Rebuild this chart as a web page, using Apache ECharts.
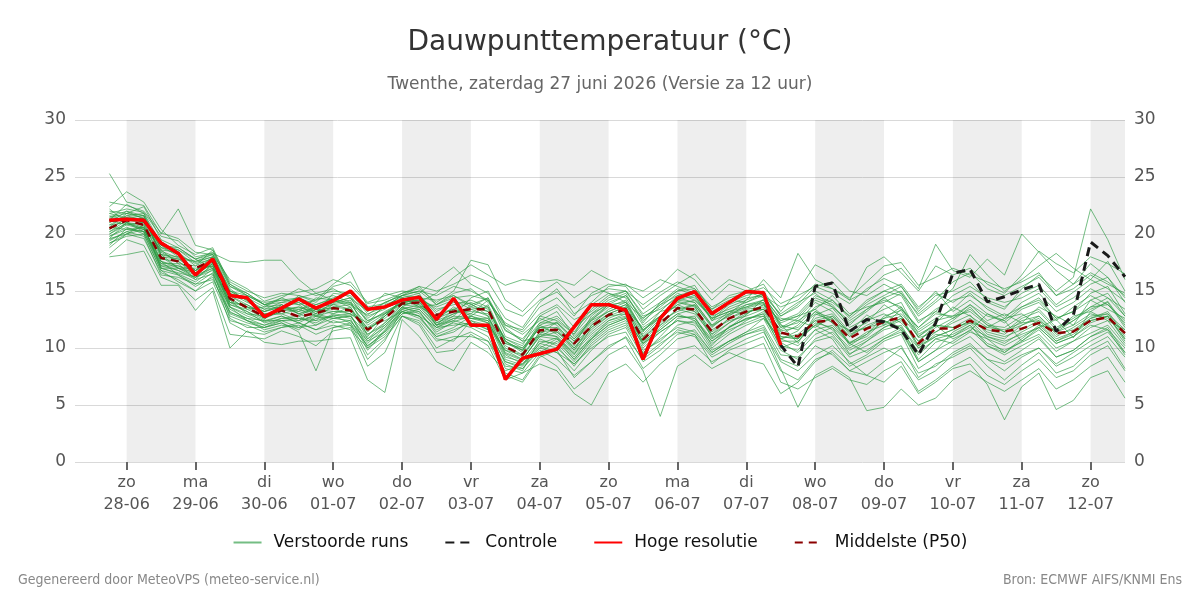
<!DOCTYPE html>
<html>
<head>
<meta charset="utf-8">
<title>Dauwpunttemperatuur</title>
<script src="https://cdn.jsdelivr.net/npm/echarts@6/dist/echarts.min.js"></script>
<style>
  html, body { margin: 0; padding: 0; background: #fff; }
  #chart { width: 1200px; height: 600px; }
</style>
</head>
<body>
<div id="chart"></div>
<script>
// tijdstappen: uren na 28-06 00:00, elke 6 uur vanaf 27-06 18:00
var stapUren = [];
for (var s = 0; s < 60; s++) stapUren.push(-6 + 6 * s);

// daglabels op de x-as (middernacht)
var tickUren = [0, 24, 48, 72, 96, 120, 144, 168, 192, 216, 240, 264, 288, 312, 336];
var tickDagen = ['zo', 'ma', 'di', 'wo', 'do', 'vr', 'za', 'zo', 'ma', 'di', 'wo', 'do', 'vr', 'za', 'zo'];
var tickDatums = ['28-06', '29-06', '30-06', '01-07', '02-07', '03-07', '04-07', '05-07', '06-07', '07-07', '08-07', '09-07', '10-07', '11-07', '12-07'];

// grijze banden (om de dag)
var banden = [[0, 24], [48, 72], [96, 120], [144, 168], [192, 216], [240, 264], [288, 312], [336, 348]];

// hoge resolutie (loopt tot 07-07 12 uur)
var hoogRes = [21.2, 21.3, 21.2, 19.2, 18.3, 16.4, 17.8, 14.6, 14.4, 12.75,
  13.5, 14.3, 13.5, 14.15, 15.0, 13.4, 13.6, 14.2, 14.45, 12.5,
  14.35, 12.0, 12.0, 7.25, 9.1, 9.5, 9.9, 11.85, 13.8, 13.8,
  13.3, 9.0, 12.6, 14.35, 14.95, 13.0, 14.0, 14.95, 14.85, 10.25];

// controle run
var controle = [21.2, 21.3, 21.2, 19.2, 18.3, 16.4, 17.8, 14.6, 14.4, 12.75,
  13.5, 14.3, 13.5, 14.15, 15.0, 13.4, 13.6, 14.2, 14.45, 12.5,
  14.35, 12.0, 12.0, 7.25, 9.1, 9.5, 9.9, 11.85, 13.8, 13.8,
  13.3, 9.0, 12.6, 14.35, 14.95, 13.0, 14.0, 14.95, 14.85, 10.25,
  8.35, 15.4, 15.7, 11.45, 12.5, 12.3, 11.6, 9.4, 12.2, 16.55,
  16.9, 14.05, 14.5, 15.1, 15.6, 11.45, 12.9, 19.3, 18.1, 16.25];

// mediaan P50
var p50 = [20.5, 21.2, 20.8, 17.9, 17.6, 17.0, 17.7, 14.35, 13.55, 12.75,
  13.3, 12.75, 13.05, 13.5, 13.3, 11.6, 12.6, 13.9, 14.0, 12.9,
  13.2, 13.4, 13.4, 10.1, 9.4, 11.55, 11.6, 10.4, 11.9, 12.9,
  13.4, 10.75, 12.15, 13.5, 13.4, 11.45, 12.6, 13.2, 13.6, 11.35,
  11.0, 12.3, 12.4, 10.85, 11.7, 12.3, 12.7, 10.4, 11.7, 11.7,
  12.4, 11.6, 11.45, 11.7, 12.2, 11.3, 11.45, 12.4, 12.7, 11.3];

// verstoorde runs
var run01 = [21.5, 22.0, 21.3, 18.5, 17.9, 16.8, 17.2, 14.0, 13.2, 12.5, 13.8, 13.0, 12.4, 13.9, 14.2, 11.0, 12.8, 14.3, 14.6, 13.2, 14.0, 13.9, 12.8, 9.5, 8.9, 11.2, 12.3, 10.8, 12.5, 13.6, 14.2, 11.5, 12.8, 14.1, 13.7, 10.9, 11.8, 12.9, 14.3, 12.1, 10.4, 12.9, 13.5, 11.8, 12.6, 13.4, 14.0, 11.2, 12.0, 10.8, 11.5, 13.0, 12.4, 10.6, 11.8, 12.5, 10.9, 13.2, 14.1, 12.0];
var run02 = [19.0, 20.5, 20.2, 17.0, 16.5, 15.8, 16.9, 13.1, 12.6, 12.0, 12.4, 11.8, 12.0, 12.9, 12.6, 9.8, 11.5, 13.5, 13.2, 11.4, 12.3, 12.8, 12.2, 9.0, 8.5, 10.4, 10.9, 9.2, 11.0, 12.2, 12.7, 9.5, 11.0, 12.6, 12.8, 10.2, 11.9, 12.5, 13.0, 10.5, 9.6, 11.2, 11.8, 9.5, 10.2, 11.0, 11.8, 9.0, 10.5, 11.0, 12.0, 10.4, 9.8, 10.5, 11.2, 9.7, 10.6, 11.3, 12.0, 10.2];
var run03 = [22.8, 22.5, 22.0, 20.1, 19.6, 18.4, 18.2, 16.0, 15.2, 14.1, 14.6, 14.9, 15.2, 16.0, 15.5, 13.9, 14.2, 14.8, 15.4, 15.0, 15.6, 16.4, 15.8, 13.4, 12.8, 14.2, 14.9, 13.5, 14.6, 15.2, 15.0, 13.8, 14.9, 15.8, 15.2, 13.6, 14.4, 14.8, 15.3, 13.9, 14.6, 15.4, 14.8, 13.9, 15.2, 16.1, 15.4, 13.2, 14.6, 15.0, 15.8, 14.2, 13.6, 14.8, 15.5, 13.8, 14.9, 16.0, 15.2, 14.1];
var run04 = [18.2, 19.5, 19.0, 16.2, 15.6, 14.2, 15.3, 11.2, 11.0, 10.8, 11.5, 11.0, 10.2, 11.5, 11.8, 8.4, 9.6, 12.8, 12.2, 10.0, 10.8, 11.4, 10.6, 7.6, 7.0, 9.2, 9.8, 7.4, 8.8, 10.2, 10.9, 8.2, 9.4, 10.8, 11.2, 8.6, 9.8, 10.4, 11.0, 8.0, 7.2, 9.0, 9.6, 8.0, 8.8, 9.6, 10.2, 7.4, 8.6, 9.2, 10.0, 8.4, 7.2, 8.5, 9.6, 7.8, 8.4, 9.8, 10.6, 8.2];
var run05 = [20.8, 21.6, 21.8, 19.2, 18.6, 17.5, 18.0, 15.2, 14.1, 13.2, 13.6, 13.4, 13.8, 14.3, 13.9, 12.4, 13.1, 14.0, 14.2, 12.0, 12.6, 13.0, 14.2, 11.5, 10.8, 12.6, 12.0, 10.2, 12.8, 14.0, 14.6, 12.4, 13.6, 14.8, 14.2, 12.8, 13.4, 14.0, 14.8, 11.8, 12.2, 14.0, 13.2, 11.4, 12.9, 12.0, 13.4, 11.8, 13.2, 12.6, 13.8, 12.4, 13.0, 12.2, 13.6, 12.8, 12.0, 14.2, 13.4, 12.6];
var run06 = [20.2, 20.9, 20.5, 17.6, 17.2, 16.5, 17.4, 14.6, 13.8, 13.0, 13.0, 12.4, 13.4, 13.0, 13.6, 10.8, 12.2, 13.8, 14.0, 12.5, 13.6, 12.8, 13.8, 10.6, 9.6, 12.0, 11.2, 9.8, 11.4, 12.6, 13.2, 10.8, 12.4, 13.2, 13.8, 11.9, 12.9, 13.5, 13.9, 11.5, 11.8, 13.2, 12.2, 10.5, 11.2, 12.8, 13.3, 10.9, 11.4, 12.2, 12.9, 11.2, 10.8, 12.0, 12.6, 11.0, 11.8, 12.8, 13.0, 11.6];
var run07 = [21.8, 22.2, 21.9, 19.8, 19.4, 18.0, 18.3, 17.6, 17.5, 17.7, 17.7, 16.0, 14.8, 14.2, 13.8, 12.9, 14.0, 14.6, 15.0, 13.8, 14.8, 15.2, 14.0, 12.2, 11.4, 13.0, 13.8, 12.5, 13.2, 14.4, 15.0, 13.0, 14.0, 15.0, 15.5, 13.2, 14.0, 14.6, 15.0, 12.8, 13.6, 15.0, 14.2, 12.8, 14.0, 15.0, 14.6, 12.2, 13.4, 14.2, 14.6, 13.6, 12.8, 13.6, 14.4, 12.6, 13.2, 14.8, 15.4, 13.0];
var run08 = [19.5, 20.2, 20.6, 17.2, 16.8, 16.0, 16.5, 13.6, 12.8, 12.3, 12.8, 12.2, 11.6, 12.4, 12.0, 10.2, 11.2, 13.0, 13.4, 11.8, 12.0, 12.2, 11.8, 8.6, 8.0, 10.8, 10.2, 8.4, 10.4, 11.6, 12.2, 9.8, 10.6, 12.0, 12.4, 10.0, 11.2, 12.0, 12.6, 9.8, 9.0, 10.8, 11.4, 9.8, 10.6, 11.6, 12.0, 9.6, 10.8, 10.4, 11.4, 10.8, 10.2, 11.0, 11.8, 10.4, 11.0, 12.0, 11.6, 10.0];
var run09 = [25.3, 22.8, 22.5, 20.0, 22.2, 19.0, 18.6, 15.4, 14.8, 13.8, 13.4, 14.6, 14.2, 15.6, 16.7, 13.6, 13.9, 14.8, 15.2, 14.0, 15.0, 17.7, 17.3, 14.2, 13.2, 14.8, 15.8, 14.4, 15.4, 14.8, 14.0, 12.6, 13.8, 14.6, 15.0, 12.4, 13.0, 14.2, 16.0, 14.4, 18.3, 16.0, 15.2, 14.2, 17.1, 18.0, 16.6, 15.0, 17.2, 16.4, 17.0, 15.6, 14.8, 16.4, 18.5, 17.4, 16.6, 18.0, 17.4, 16.5];
var run10 = [18.0, 18.2, 18.5, 15.5, 15.5, 13.3, 15.0, 10.0, 11.5, 10.5, 10.3, 10.6, 10.6, 10.8, 10.9, 7.2, 6.1, 12.5, 11.0, 8.8, 8.0, 10.5, 9.6, 8.0, 8.6, 10.0, 10.8, 9.5, 10.8, 12.0, 12.6, 10.4, 11.4, 12.4, 12.0, 9.8, 10.6, 11.4, 12.6, 10.8, 11.5, 13.2, 12.6, 10.4, 9.6, 10.8, 11.6, 8.8, 9.8, 11.4, 12.2, 10.8, 9.6, 10.8, 12.0, 10.6, 11.2, 12.4, 12.8, 10.6];
var run11 = [20.0, 21.0, 20.8, 18.0, 17.0, 16.2, 17.0, 13.8, 13.2, 12.2, 12.6, 12.6, 12.2, 13.0, 12.8, 11.2, 12.0, 13.6, 13.0, 11.6, 12.2, 11.8, 11.0, 7.8, 7.2, 9.4, 8.4, 6.4, 7.6, 9.4, 10.2, 8.0, 4.0, 8.4, 9.4, 8.2, 9.0, 9.8, 10.4, 7.0, 6.4, 7.4, 8.2, 7.2, 6.8, 8.0, 8.8, 6.2, 7.2, 8.4, 9.2, 7.6, 6.8, 8.0, 9.0, 7.4, 8.0, 9.4, 10.2, 8.0];
var run12 = [21.0, 21.6, 21.2, 18.8, 18.2, 17.4, 17.8, 14.8, 14.0, 13.4, 14.0, 13.8, 14.2, 14.6, 14.0, 12.8, 13.4, 14.4, 14.8, 12.2, 12.8, 14.4, 15.0, 12.0, 11.2, 12.4, 13.2, 11.0, 12.6, 13.8, 14.0, 11.6, 12.6, 13.8, 13.2, 11.0, 12.2, 13.0, 13.8, 11.2, 12.0, 13.6, 14.2, 12.6, 13.8, 14.6, 15.4, 13.4, 15.0, 13.2, 14.2, 13.0, 12.2, 13.4, 14.0, 12.4, 13.6, 14.6, 13.8, 12.2];
var run13 = [20.4, 21.4, 21.0, 17.6, 17.0, 16.6, 17.5, 14.2, 13.6, 12.6, 13.2, 12.8, 13.6, 13.4, 13.0, 11.8, 12.4, 13.2, 13.6, 12.8, 13.4, 13.0, 12.6, 10.4, 9.8, 11.8, 12.2, 10.6, 12.2, 13.2, 13.8, 11.2, 12.8, 14.2, 14.6, 12.4, 13.6, 14.2, 14.8, 12.8, 13.8, 15.4, 15.8, 14.2, 15.0, 16.4, 17.0, 15.2, 19.1, 16.8, 16.2, 17.8, 16.4, 20.0, 18.4, 16.8, 15.6, 17.4, 16.2, 14.4];
var run14 = [19.8, 20.6, 20.0, 16.8, 16.4, 15.4, 16.2, 12.8, 12.2, 11.8, 12.2, 11.6, 12.8, 12.2, 12.4, 10.4, 11.8, 13.2, 12.6, 11.0, 11.4, 12.4, 12.0, 9.8, 9.0, 11.0, 11.4, 10.0, 11.6, 12.8, 13.4, 11.0, 12.0, 13.0, 12.4, 10.6, 11.6, 12.2, 12.8, 10.2, 9.8, 11.6, 10.8, 8.6, 9.4, 10.6, 11.2, 8.2, 9.2, 10.2, 11.0, 9.6, 8.8, 9.8, 10.8, 9.2, 9.8, 11.0, 11.8, 9.6];
var run15 = [22.0, 21.8, 22.4, 19.5, 18.8, 17.8, 18.4, 15.6, 14.6, 13.8, 14.2, 14.0, 13.0, 14.8, 14.6, 12.6, 13.6, 14.6, 14.4, 14.2, 14.6, 13.8, 13.2, 10.8, 10.2, 12.8, 13.6, 11.8, 13.0, 14.2, 14.8, 12.2, 14.0, 15.2, 14.6, 12.6, 13.2, 13.6, 14.0, 11.0, 10.8, 12.0, 11.2, 9.4, 10.6, 11.8, 12.6, 10.2, 11.4, 12.4, 13.6, 12.0, 11.4, 12.6, 13.2, 11.6, 12.4, 13.6, 14.4, 12.8];
var run16 = [19.2, 20.0, 19.6, 16.6, 16.0, 15.0, 15.8, 12.4, 12.0, 11.4, 11.8, 12.0, 11.2, 11.8, 12.2, 9.4, 10.8, 12.8, 12.4, 10.6, 11.0, 11.0, 10.6, 8.4, 8.2, 9.8, 9.0, 7.6, 8.8, 10.0, 11.0, 9.0, 10.2, 11.6, 11.2, 9.4, 10.4, 11.2, 11.8, 9.0, 8.4, 10.2, 9.4, 8.0, 7.6, 8.8, 10.0, 7.8, 8.4, 9.6, 10.4, 9.0, 8.6, 9.4, 10.0, 8.4, 9.2, 10.2, 11.0, 9.2];
var run17 = [21.2, 22.6, 21.8, 18.6, 18.4, 17.2, 18.6, 15.8, 15.0, 14.4, 14.8, 14.6, 14.0, 15.4, 15.8, 14.0, 14.6, 15.0, 14.8, 16.0, 17.1, 15.6, 14.8, 12.6, 11.8, 14.0, 15.2, 13.0, 14.0, 15.4, 15.6, 14.4, 15.4, 16.9, 16.0, 14.2, 15.6, 15.0, 15.6, 13.2, 15.0, 17.3, 16.5, 15.0, 14.6, 15.6, 14.8, 13.0, 14.2, 15.8, 16.6, 15.2, 14.6, 15.4, 16.2, 14.6, 15.6, 16.6, 15.8, 14.6];
var run18 = [20.6, 20.4, 20.2, 17.4, 17.4, 17.2, 17.9, 14.2, 13.0, 12.8, 13.4, 13.2, 13.6, 13.8, 13.4, 11.8, 12.8, 14.2, 14.4, 13.4, 13.8, 14.2, 13.6, 10.2, 9.4, 11.4, 11.0, 9.4, 11.8, 13.0, 13.6, 10.4, 12.0, 13.4, 13.0, 11.2, 12.6, 13.4, 13.6, 11.0, 10.8, 12.6, 13.0, 11.2, 11.8, 12.2, 12.8, 10.2, 11.0, 11.6, 12.4, 11.6, 11.2, 12.4, 12.8, 11.4, 12.0, 13.0, 12.6, 11.4];
var run19 = [21.6, 21.2, 21.4, 18.2, 17.8, 16.8, 17.6, 14.8, 14.4, 13.6, 13.8, 13.2, 14.4, 14.2, 13.6, 11.4, 13.0, 14.0, 13.8, 12.4, 13.0, 13.6, 14.4, 11.0, 10.4, 12.2, 12.8, 11.4, 13.4, 14.6, 15.0, 12.8, 13.4, 14.4, 14.0, 12.0, 12.8, 13.8, 14.2, 12.2, 12.8, 14.4, 13.8, 12.0, 13.4, 14.2, 13.6, 11.6, 12.6, 13.4, 14.8, 13.4, 12.6, 14.0, 14.8, 13.2, 14.0, 15.2, 14.4, 13.4];
var run20 = [19.6, 21.0, 20.4, 17.8, 17.6, 16.4, 17.0, 13.4, 12.6, 12.4, 12.4, 12.4, 12.8, 12.6, 12.8, 10.6, 12.0, 13.4, 13.8, 12.0, 12.8, 12.6, 12.4, 9.2, 8.8, 10.6, 10.4, 8.8, 10.6, 11.8, 12.4, 10.0, 11.4, 12.4, 12.2, 10.4, 11.4, 12.4, 13.2, 10.8, 11.2, 12.4, 11.6, 10.0, 10.8, 11.8, 12.4, 10.6, 12.0, 11.8, 12.6, 11.4, 11.0, 11.6, 12.4, 10.8, 11.4, 12.6, 13.2, 11.2];
var run21 = [20.0, 20.8, 20.4, 17.4, 16.8, 16.2, 17.2, 13.6, 12.4, 11.6, 12.0, 11.8, 12.6, 12.8, 13.0, 10.0, 11.6, 13.2, 12.8, 11.8, 12.4, 12.0, 11.4, 8.8, 8.4, 10.2, 9.6, 8.0, 9.8, 11.2, 11.8, 9.2, 10.4, 11.4, 11.0, 9.2, 10.0, 10.8, 11.4, 8.8, 8.0, 9.4, 10.2, 8.8, 7.6, 7.0, 8.4, 6.0, 7.0, 8.2, 8.6, 6.8, 3.7, 6.6, 7.8, 4.6, 5.4, 7.4, 8.0, 5.6];
var run22 = [19.4, 20.2, 19.8, 16.4, 16.2, 15.6, 16.6, 13.0, 12.4, 12.0, 12.6, 12.8, 12.0, 12.6, 12.4, 10.6, 11.4, 13.0, 13.2, 11.2, 11.8, 12.8, 12.4, 9.4, 8.6, 10.4, 10.0, 8.6, 10.2, 11.4, 12.0, 9.6, 10.8, 11.8, 11.4, 9.6, 10.6, 11.2, 11.6, 8.2, 4.8, 7.6, 8.4, 7.4, 4.5, 4.8, 6.4, 5.0, 5.6, 7.2, 8.0, 7.0, 6.2, 7.2, 8.2, 6.4, 7.2, 8.4, 9.2, 7.0];
var run23 = [21.4, 21.8, 21.6, 19.0, 18.0, 17.6, 18.2, 15.0, 14.2, 13.0, 13.2, 13.6, 13.0, 14.0, 14.4, 12.2, 13.2, 14.0, 14.6, 13.0, 13.4, 14.0, 13.4, 10.8, 10.0, 12.0, 12.6, 11.2, 13.8, 14.8, 14.4, 12.0, 13.2, 14.6, 14.4, 12.6, 13.8, 14.4, 14.6, 12.4, 13.0, 14.6, 14.0, 12.8, 14.2, 15.0, 15.6, 13.6, 14.8, 14.0, 15.0, 14.0, 13.4, 15.2, 16.4, 15.0, 16.2, 22.2, 19.5, 16.0];
var run24 = [20.2, 21.2, 21.0, 18.4, 17.6, 16.6, 17.6, 13.8, 13.4, 12.6, 13.4, 13.6, 13.2, 13.8, 14.0, 11.6, 12.8, 14.0, 14.2, 13.6, 14.2, 13.4, 12.8, 10.0, 9.2, 11.4, 11.6, 9.8, 12.0, 13.4, 14.0, 11.4, 13.2, 13.6, 13.2, 11.6, 12.4, 12.8, 13.4, 11.6, 12.4, 11.8, 12.8, 11.0, 12.0, 12.6, 13.0, 11.4, 12.4, 12.8, 13.2, 12.0, 11.8, 12.8, 13.4, 11.8, 12.6, 13.6, 13.8, 12.4];
var run25 = [22.4, 23.7, 22.8, 20.4, 19.0, 18.2, 18.8, 15.6, 14.8, 13.8, 14.4, 15.2, 14.6, 15.0, 14.8, 13.2, 14.0, 14.6, 15.0, 14.6, 15.4, 15.0, 14.2, 12.0, 11.6, 13.6, 14.4, 12.8, 14.8, 15.6, 15.4, 13.4, 14.6, 15.6, 16.5, 14.8, 16.0, 15.4, 14.6, 13.0, 14.0, 14.8, 13.6, 12.4, 13.4, 14.4, 15.0, 12.8, 14.0, 15.2, 18.2, 16.4, 15.0, 16.0, 17.2, 18.3, 17.0, 16.0, 17.6, 15.0];
var run26 = [19.8, 20.4, 20.6, 17.0, 16.6, 16.2, 16.8, 12.6, 11.8, 11.8, 12.2, 11.4, 8.0, 11.8, 12.0, 9.0, 10.6, 13.4, 12.8, 10.8, 10.6, 12.4, 11.6, 8.2, 7.8, 9.6, 10.6, 9.0, 10.8, 12.4, 12.8, 10.6, 11.6, 12.8, 12.6, 10.8, 11.8, 12.6, 13.0, 10.0, 10.6, 12.0, 12.6, 10.2, 11.2, 12.4, 11.6, 9.4, 10.8, 11.2, 12.0, 10.2, 9.6, 10.6, 11.6, 10.0, 10.6, 11.8, 12.4, 10.4];
var run27 = [21.0, 22.0, 21.6, 18.0, 17.8, 17.6, 18.0, 15.0, 14.2, 13.4, 13.6, 14.0, 13.2, 13.6, 13.8, 12.0, 13.0, 14.0, 14.2, 12.6, 13.2, 13.2, 13.0, 10.4, 10.0, 11.8, 11.8, 10.0, 12.0, 13.0, 13.6, 11.0, 12.6, 14.0, 13.6, 11.4, 12.6, 13.2, 13.4, 11.4, 10.8, 12.4, 12.8, 11.4, 11.8, 12.6, 13.6, 11.0, 12.0, 11.8, 12.2, 11.8, 11.6, 12.2, 12.4, 11.4, 12.4, 13.4, 14.0, 11.8];
var run28 = [20.8, 21.0, 20.2, 17.2, 17.2, 16.8, 17.8, 14.0, 13.6, 13.2, 13.6, 13.0, 13.4, 13.2, 13.2, 11.6, 12.6, 13.8, 14.0, 12.2, 13.0, 13.4, 13.6, 10.6, 9.8, 11.8, 11.4, 10.4, 11.8, 12.8, 13.0, 10.6, 12.2, 13.4, 13.8, 11.8, 13.0, 13.6, 14.2, 12.0, 11.6, 13.0, 12.4, 11.0, 12.4, 13.0, 12.2, 10.6, 11.8, 12.6, 13.4, 12.2, 11.4, 12.0, 12.8, 11.2, 11.6, 12.6, 13.0, 11.0];
var run29 = [21.8, 21.4, 21.2, 18.8, 18.6, 17.8, 18.2, 15.4, 14.6, 14.0, 14.2, 14.4, 14.8, 15.2, 14.4, 13.2, 14.8, 14.4, 14.0, 14.8, 16.2, 17.3, 16.4, 15.5, 16.0, 15.8, 16.0, 15.5, 16.8, 16.0, 15.5, 15.0, 16.0, 15.4, 14.8, 13.4, 14.2, 14.0, 14.6, 13.6, 14.2, 15.6, 15.2, 14.4, 15.8, 17.2, 17.5, 15.5, 16.2, 17.0, 16.4, 15.8, 15.2, 15.8, 16.6, 14.6, 15.2, 16.4, 15.6, 14.8];
var run30 = [19.2, 19.8, 20.0, 16.8, 15.8, 15.0, 16.4, 12.2, 11.4, 11.2, 11.8, 12.2, 11.6, 12.0, 11.6, 10.0, 11.0, 12.8, 12.0, 9.6, 9.8, 11.2, 10.2, 7.2, 7.8, 8.6, 8.0, 6.0, 5.0, 7.8, 8.6, 7.0, 8.6, 9.8, 10.2, 8.8, 9.6, 9.0, 8.6, 6.0, 7.0, 8.8, 9.8, 8.4, 9.2, 10.0, 9.2, 7.2, 8.0, 9.4, 10.2, 9.0, 8.0, 9.2, 10.0, 8.6, 9.6, 10.6, 11.4, 9.6];
var run31 = [22.2, 21.0, 20.6, 18.6, 17.4, 16.0, 17.4, 14.4, 13.4, 13.6, 14.4, 13.8, 12.8, 13.2, 13.0, 12.2, 13.8, 14.4, 13.6, 12.0, 12.4, 13.8, 14.4, 11.8, 10.6, 11.0, 11.8, 10.6, 12.4, 13.8, 13.4, 11.8, 12.8, 13.8, 14.2, 12.6, 13.2, 13.0, 13.8, 12.4, 12.8, 13.4, 12.2, 11.6, 12.2, 13.8, 12.8, 11.0, 12.2, 13.6, 12.8, 11.8, 12.6, 13.0, 12.0, 11.6, 12.8, 13.2, 12.4, 11.6];
var run32 = [20.6, 21.8, 21.4, 18.2, 17.0, 17.0, 17.2, 14.0, 13.8, 12.9, 13.0, 13.4, 12.8, 13.6, 13.4, 11.2, 12.2, 13.6, 14.4, 12.0, 13.4, 12.6, 12.2, 9.8, 9.4, 11.2, 11.0, 9.6, 11.2, 12.4, 13.0, 10.2, 11.8, 13.0, 13.4, 11.2, 12.2, 13.2, 13.4, 10.8, 10.2, 11.6, 12.0, 10.4, 11.4, 12.0, 12.6, 10.0, 11.2, 11.0, 11.8, 11.0, 10.6, 11.2, 11.8, 10.4, 11.0, 12.2, 12.8, 10.8];
var run33 = [21.2, 20.8, 21.0, 19.0, 18.8, 17.8, 17.0, 15.0, 14.6, 13.8, 14.0, 14.4, 13.8, 14.4, 14.8, 13.0, 13.6, 14.6, 15.4, 13.8, 14.4, 14.6, 14.2, 11.6, 10.6, 12.8, 12.4, 11.2, 13.0, 13.8, 14.6, 12.6, 13.8, 15.0, 15.2, 13.4, 14.6, 15.0, 14.4, 12.6, 12.4, 13.4, 14.6, 13.0, 13.6, 14.0, 14.8, 12.4, 13.2, 14.6, 15.4, 14.4, 14.0, 14.4, 15.2, 13.6, 14.4, 15.6, 16.2, 14.0];
var run34 = [18.8, 20.0, 20.4, 17.6, 16.4, 15.6, 16.0, 13.2, 12.4, 11.8, 12.4, 12.6, 12.4, 12.8, 12.2, 10.2, 11.4, 13.2, 12.8, 11.0, 11.6, 12.2, 11.6, 8.8, 8.2, 10.0, 9.6, 8.6, 10.0, 11.0, 11.4, 8.8, 9.8, 11.2, 11.6, 9.6, 10.6, 11.4, 12.0, 9.4, 9.2, 10.6, 11.0, 9.2, 9.8, 10.8, 11.4, 8.8, 9.8, 10.6, 11.6, 10.2, 9.4, 10.2, 11.0, 9.2, 9.8, 11.0, 11.6, 9.4];
var run35 = [20.4, 21.4, 21.6, 18.2, 18.0, 16.8, 18.0, 14.6, 13.6, 13.2, 13.8, 13.0, 13.6, 14.0, 14.4, 12.4, 13.0, 13.8, 13.6, 13.8, 14.6, 13.6, 13.2, 10.6, 9.8, 12.2, 12.2, 10.8, 12.4, 13.2, 13.8, 11.6, 12.8, 14.2, 14.0, 12.0, 13.2, 13.8, 14.0, 11.8, 12.6, 14.2, 13.6, 12.2, 13.2, 14.4, 13.4, 11.8, 13.0, 12.8, 13.8, 12.8, 12.4, 13.6, 14.2, 12.6, 13.2, 14.2, 14.8, 12.8];
var run36 = [19.6, 20.0, 20.8, 17.0, 17.0, 16.4, 17.4, 13.6, 13.0, 12.4, 12.8, 12.2, 13.0, 12.6, 12.8, 10.8, 11.8, 13.6, 13.4, 11.8, 12.6, 12.6, 12.6, 9.6, 9.0, 11.0, 10.8, 9.0, 10.8, 12.0, 12.6, 10.4, 11.6, 12.8, 12.6, 10.6, 11.8, 12.6, 12.8, 10.6, 10.6, 12.2, 11.8, 10.4, 11.0, 12.4, 11.8, 10.0, 11.0, 11.6, 12.4, 11.0, 10.4, 11.4, 12.2, 10.6, 11.4, 12.4, 12.8, 10.8];

var runs = [run01, run02, run03, run04, run05, run06, run07, run08, run09, run10,
  run11, run12, run13, run14, run15, run16, run17, run18, run19, run20,
  run21, run22, run23, run24, run25, run26, run27, run28, run29, run30,
  run31, run32, run33, run34, run35, run36];

function paren(waarden) {
  var uit = [];
  for (var i = 0; i < waarden.length; i++) uit.push([stapUren[i], waarden[i]]);
  return uit;
}

var dom = document.getElementById('chart');
var myChart = echarts.init(dom);

var series = [];
// grijze dagbanden
series.push({
  type: 'line',
  data: [],
  silent: true,
  z: 1,
  markArea: {
    silent: true,
    itemStyle: { color: 'rgba(0,0,0,0.068)' },
    data: banden.map(function (b) { return [{ xAxis: b[0] }, { xAxis: b[1] }]; })
  }
});
for (var r = 0; r < runs.length; r++) {
  series.push({
    name: 'Verstoorde runs',
    type: 'line',
    data: paren(runs[r]),
    symbol: 'none',
    z: 2,
    lineStyle: { color: '#2a9a40', width: 1, opacity: 0.65 },
    itemStyle: { color: '#2a9a40' }
  });
}
series.push({
  name: 'Middelste (P50)',
  type: 'line',
  data: paren(p50),
  symbol: 'none',
  z: 3,
  lineStyle: { color: '#8b0000', width: 2.5, type: [8, 6] },
  itemStyle: { color: '#8b0000' }
});
series.push({
  name: 'Controle',
  type: 'line',
  data: paren(controle),
  symbol: 'none',
  z: 4,
  lineStyle: { color: '#1a1a1a', width: 3, type: [9, 6] },
  itemStyle: { color: '#1a1a1a' }
});
series.push({
  name: 'Hoge resolutie',
  type: 'line',
  data: paren(hoogRes),
  symbol: 'none',
  z: 5,
  lineStyle: { color: '#ff0000', width: 3.5 },
  itemStyle: { color: '#ff0000' }
});

var asLabel = { fontFamily: 'DejaVu Sans', fontSize: 17, color: '#555' };

option = {
  animation: false,
  backgroundColor: '#fff',
  title: {
    text: 'Dauwpunttemperatuur (°C)',
    subtext: 'Twenthe, zaterdag 27 juni 2026 (Versie za 12 uur)',
    left: 'center',
    top: 24,
    itemGap: 19,
    textStyle: { fontFamily: 'DejaVu Sans', fontSize: 28, fontWeight: 'normal', color: '#333' },
    subtextStyle: { fontFamily: 'DejaVu Sans', fontSize: 17, color: '#666' }
  },
  legend: {
    bottom: 44,
    left: 'center',
    itemWidth: 28,
    itemHeight: 14,
    itemGap: 36,
    itemStyle: { opacity: 0 },
    textStyle: { fontFamily: 'DejaVu Sans', fontSize: 17, color: '#111', padding: [0, 0, 0, 7] },
    data: ['Verstoorde runs', 'Controle', 'Hoge resolutie', 'Middelste (P50)']
  },
  grid: { left: 75, right: 75, top: 120, bottom: 138 },
  xAxis: {
    type: 'value',
    min: -18,
    max: 348,
    splitLine: { show: false },
    axisLine: { show: false },
    axisTick: {
      show: true,
      customValues: tickUren,
      length: 8,
      lineStyle: { color: '#666', width: 2 }
    },
    axisLabel: {
      customValues: tickUren,
      fontFamily: 'DejaVu Sans',
      fontSize: 16,
      color: '#555',
      lineHeight: 22,
      margin: 10,
      formatter: function (v) {
        var k = tickUren.indexOf(v);
        return k < 0 ? '' : tickDagen[k] + '\n' + tickDatums[k];
      }
    }
  },
  yAxis: [{
    type: 'value',
    min: 0,
    max: 30,
    interval: 5,
    position: 'left',
    axisLine: { show: false },
    axisTick: { show: false },
    axisLabel: Object.assign({ margin: 9 }, asLabel),
    splitLine: { lineStyle: { color: '#d9d9d9', width: 1 } }
  }, {
    type: 'value',
    min: 0,
    max: 30,
    interval: 5,
    position: 'right',
    axisLine: { show: false },
    axisTick: { show: false },
    axisLabel: Object.assign({ margin: 9 }, asLabel),
    splitLine: { show: false }
  }],
  graphic: [{
    type: 'text',
    left: 18,
    top: 573,
    style: { text: 'Gegenereerd door MeteoVPS (meteo-service.nl)', font: '14px "DejaVu Sans Condensed", "DejaVu Sans"', fill: '#888' }
  }, {
    type: 'text',
    right: 18,
    top: 573,
    style: { text: 'Bron: ECMWF AIFS/KNMI Ens', font: '14px "DejaVu Sans Condensed", "DejaVu Sans"', fill: '#888' }
  }],
  series: series
};

myChart.setOption(option);
window.onresize = myChart.resize;
</script>
</body>
</html>
